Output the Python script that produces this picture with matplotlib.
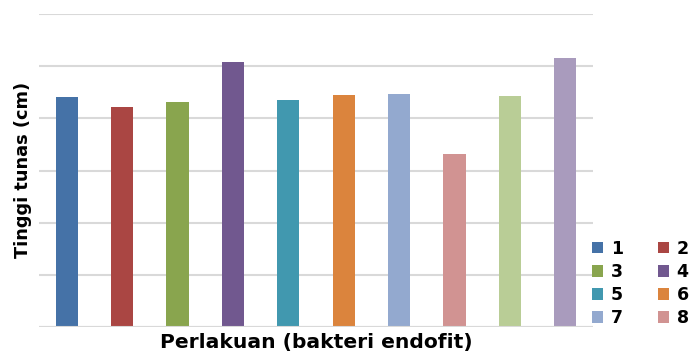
import matplotlib
matplotlib.use("Agg")
import matplotlib.pyplot as plt
from matplotlib.patches import Patch

# Tinggi tunas per perlakuan (gridline units, no tick labels on the source)
treatments = ["1", "2", "3", "4", "5", "6", "7", "8", "9", "10"]
heights = [4.41, 4.21, 4.32, 5.08, 4.35, 4.44, 4.46, 3.31, 4.43, 5.15]
colors = ["#4572A7", "#AA4643", "#89A54E", "#71588F", "#4198AF",
          "#DB843D", "#93A9CF", "#D19392", "#B9CD96", "#A99BBD"]
legend_shown = 8  # rows for 9 and 10 fall outside the crop

fig = plt.figure(figsize=(6.94, 3.51), dpi=100)
ax = fig.add_axes([39 / 694, 1 - 327 / 351, (593 - 39) / 694, (327 - 14) / 351])

x = range(len(treatments))
ax.bar(x, heights, width=0.4, color=colors, zorder=3)

ax.set_xlim(-0.5, len(treatments) - 0.5)
ax.set_ylim(0, 6)
ax.set_yticks(range(0, 7))
ax.yaxis.grid(True, color="#d9d9d9", linewidth=1.5, zorder=0)
ax.tick_params(left=False, bottom=False, labelleft=False, labelbottom=False)
for side in ["top", "right", "left", "bottom"]:
    ax.spines[side].set_visible(False)
ax.axhline(0, color="#d9d9d9", linewidth=1.5, zorder=4)

fig.text(23 / 694, 1 - 170 / 351, "Tinggi tunas (cm)", rotation=90, ha="center",
         va="center", fontsize=12.8, fontweight="bold", family="DejaVu Sans")
fig.text(316 / 694, 1 - 348 / 351, "Perlakuan (bakteri endofit)", ha="center",
         va="baseline", fontsize=14.6, fontweight="bold", family="DejaVu Sans")

# legend reads row-wise (1 2 / 3 4 / ...), matplotlib fills columns first
order = list(range(0, legend_shown, 2)) + list(range(1, legend_shown, 2))
handles = [Patch(facecolor=colors[i], edgecolor="none") for i in order]
labels = [treatments[i] for i in order]
fig.legend(handles, labels, ncol=2, loc="upper left",
           bbox_to_anchor=(583 / 694, 1 - 231 / 351), frameon=False,
           prop={"weight": "bold", "size": 12.5, "family": "DejaVu Sans"},
           handlelength=0.65, handleheight=0.65, handletextpad=0.45,
           columnspacing=2.0, labelspacing=0.3, borderpad=0)

fig.savefig("out.png", dpi=100)
